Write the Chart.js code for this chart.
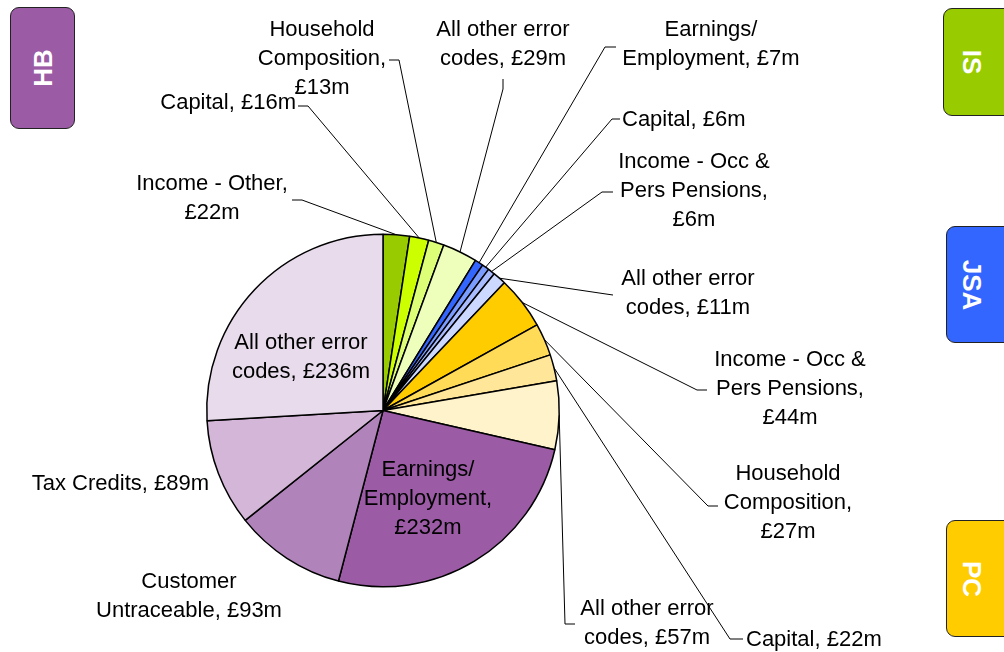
<!DOCTYPE html>
<html>
<head>
<meta charset="utf-8">
<script src="https://cdn.jsdelivr.net/npm/chart.js@4.4.0/dist/chart.umd.min.js"></script>
<style>
  body { margin: 0; background: #fff; overflow: hidden; }
  #wrap { position: relative; width: 1004px; height: 652px; }
  canvas { position: absolute; left: 0; top: 0; }
  .box { position: absolute; border: 1.5px solid #222; border-radius: 9px; box-sizing: border-box; }
  .box span { position: absolute; left: 50%; top: 50%; color: #fff; font: bold 26px "Liberation Sans", Arial, sans-serif; white-space: nowrap; }
</style>
</head>
<body>
<div id="wrap">
  <canvas id="pie" width="1004" height="652"></canvas>
  <div class="box" style="left:10px;top:7px;width:65px;height:122px;background:#9b5ba5"><span style="transform:translate(-50%,-50%) rotate(-90deg)">HB</span></div>
  <div class="box" style="left:943px;top:8px;width:75px;height:108px;background:#99cc00"><span style="left:27px;transform:translate(-50%,-50%) rotate(90deg)">IS</span></div>
  <div class="box" style="left:946px;top:226px;width:75px;height:117px;background:#3366ff"><span style="left:24px;transform:translate(-50%,-50%) rotate(90deg)">JSA</span></div>
  <div class="box" style="left:946px;top:520px;width:75px;height:117px;background:#ffcc00"><span style="left:24px;transform:translate(-50%,-50%) rotate(90deg)">PC</span></div>
</div>
<script>
// error categories, clockwise from 12 o'clock (IS, JSA, PC, HB)
const categories = ['Income - Other', 'Capital', 'Household Composition', 'All other error codes',
  'Earnings/Employment', 'Capital', 'Income - Occ & Pers Pensions', 'All other error codes',
  'Income - Occ & Pers Pensions', 'Household Composition', 'Capital', 'All other error codes',
  'Earnings/Employment', 'Customer Untraceable', 'Tax Credits', 'All other error codes']
const benefits = ['IS','IS','IS','IS','JSA','JSA','JSA','JSA','PC','PC','PC','PC','HB','HB','HB','HB']
// £m
const values = [22, 16, 13, 29, 7, 6, 6, 11, 44, 27, 22, 57, 232, 93, 89, 236]

const colours = ['#99cc00','#ccff00','#ddff77','#eeffbb',
  '#3366ff','#7a9bff','#a8bbff','#ccd8ff',
  '#ffcc00','#ffdb58','#ffe699','#fff3cc',
  '#9b5ba5','#b084ba','#d4b6d8','#e8dcec']

// where each label sits + leader line (elbow, end at label)
const labelPos = [
  {x:212, y:184, align:'center', w:160, lead:[[302,200],[292,200]]},
  {x:296, y:103, align:'right', w:999, lead:[[308,106],[298,106]]},
  {x:322, y:30, align:'center', w:135, lead:[[399,60],[389,60]]},
  {x:503, y:30, align:'center', w:140, lead:[[503,89],[503,79]]},
  {x:711, y:30, align:'center', w:185, lead:[[605,47],[616,47]]},
  {x:622, y:120, align:'left', w:999, lead:[[612,119],[620,119]]},
  {x:694, y:162, align:'center', w:160, lead:[[602,192],[613,192]]},
  {x:688, y:279, align:'center', w:140, lead:[[606,294],[613,295]]},
  {x:790, y:360, align:'center', w:160, lead:[[697,390],[707,390]]},
  {x:788, y:474, align:'center', w:135, lead:[[708,506],[718,506]]},
  {x:746, y:640, align:'left', w:999, lead:[[730,639],[743,639]]},
  {x:647, y:609, align:'center', w:140, lead:[[565,624],[575,624]]},
  {x:428, y:470, align:'center', w:150, lead:null},
  {x:189, y:582, align:'center', w:190, lead:null},
  {x:209, y:484, align:'right', w:999, lead:null},
  {x:301, y:343, align:'center', w:145, lead:null}
]

// split text into lines no wider than w (break on spaces and after '/')
function wrap(ctx, text, w){
  const words = text.replace(/\//g, '/\u0000').split(/ |\u0000/)
  const seps = []
  text.replace(/\//g, '/\u0000').replace(/ |\u0000/g, m => { seps.push(m===' ' ? ' ' : ''); return m })
  let lines = [], cur = words[0]
  for (let i=1; i<words.length; i++){
    const test = cur + seps[i-1] + words[i]
    if (ctx.measureText(test).width > w){ lines.push(cur); cur = words[i] }
    else cur = test
  }
  lines.push(cur)
  return lines
}

const labelPlugin = {
  id: 'labels',
  afterDatasetsDraw(chart){
    const ctx = chart.ctx
    const arcs = chart.getDatasetMeta(0).data
    ctx.save()
    ctx.strokeStyle = '#000'
    ctx.lineWidth = 1
    arcs.forEach((arc, i) => {
      const p = labelPos[i]
      if (!p.lead) return
      const mid = (arc.startAngle + arc.endAngle) / 2
      ctx.beginPath()
      ctx.moveTo(arc.x + Math.cos(mid)*arc.outerRadius, arc.y + Math.sin(mid)*arc.outerRadius)
      ctx.lineTo(p.lead[0][0], p.lead[0][1])
      ctx.lineTo(p.lead[1][0], p.lead[1][1])
      ctx.stroke()
    })
    ctx.font = '22px "Liberation Sans", Arial, sans-serif'
    ctx.fillStyle = '#000'
    ctx.textBaseline = 'middle'
    categories.forEach((c, i) => {
      const p = labelPos[i]
      const lines = wrap(ctx, `${c}, £${values[i]}m`, p.w)
      ctx.textAlign = p.align
      lines.forEach((l, k) => ctx.fillText(l, p.x, p.y + k*29))
    })
    ctx.restore()
  }
}

new Chart(document.getElementById('pie'), {
  type: 'pie',
  data: {
    labels: categories.map((c, i) => `${benefits[i]} - ${c}`),
    datasets: [{
      data: values,
      backgroundColor: colours,
      borderColor: '#000',
      borderWidth: 1.5
    }]
  },
  options: {
    responsive: false,
    animation: false,
    layout: { padding: {left: 206, right: 444, top: 233, bottom: 64} },
    plugins: { legend: {display: false}, tooltip: {enabled: false} }
  },
  plugins: [labelPlugin]
})
</script>
</body>
</html>
